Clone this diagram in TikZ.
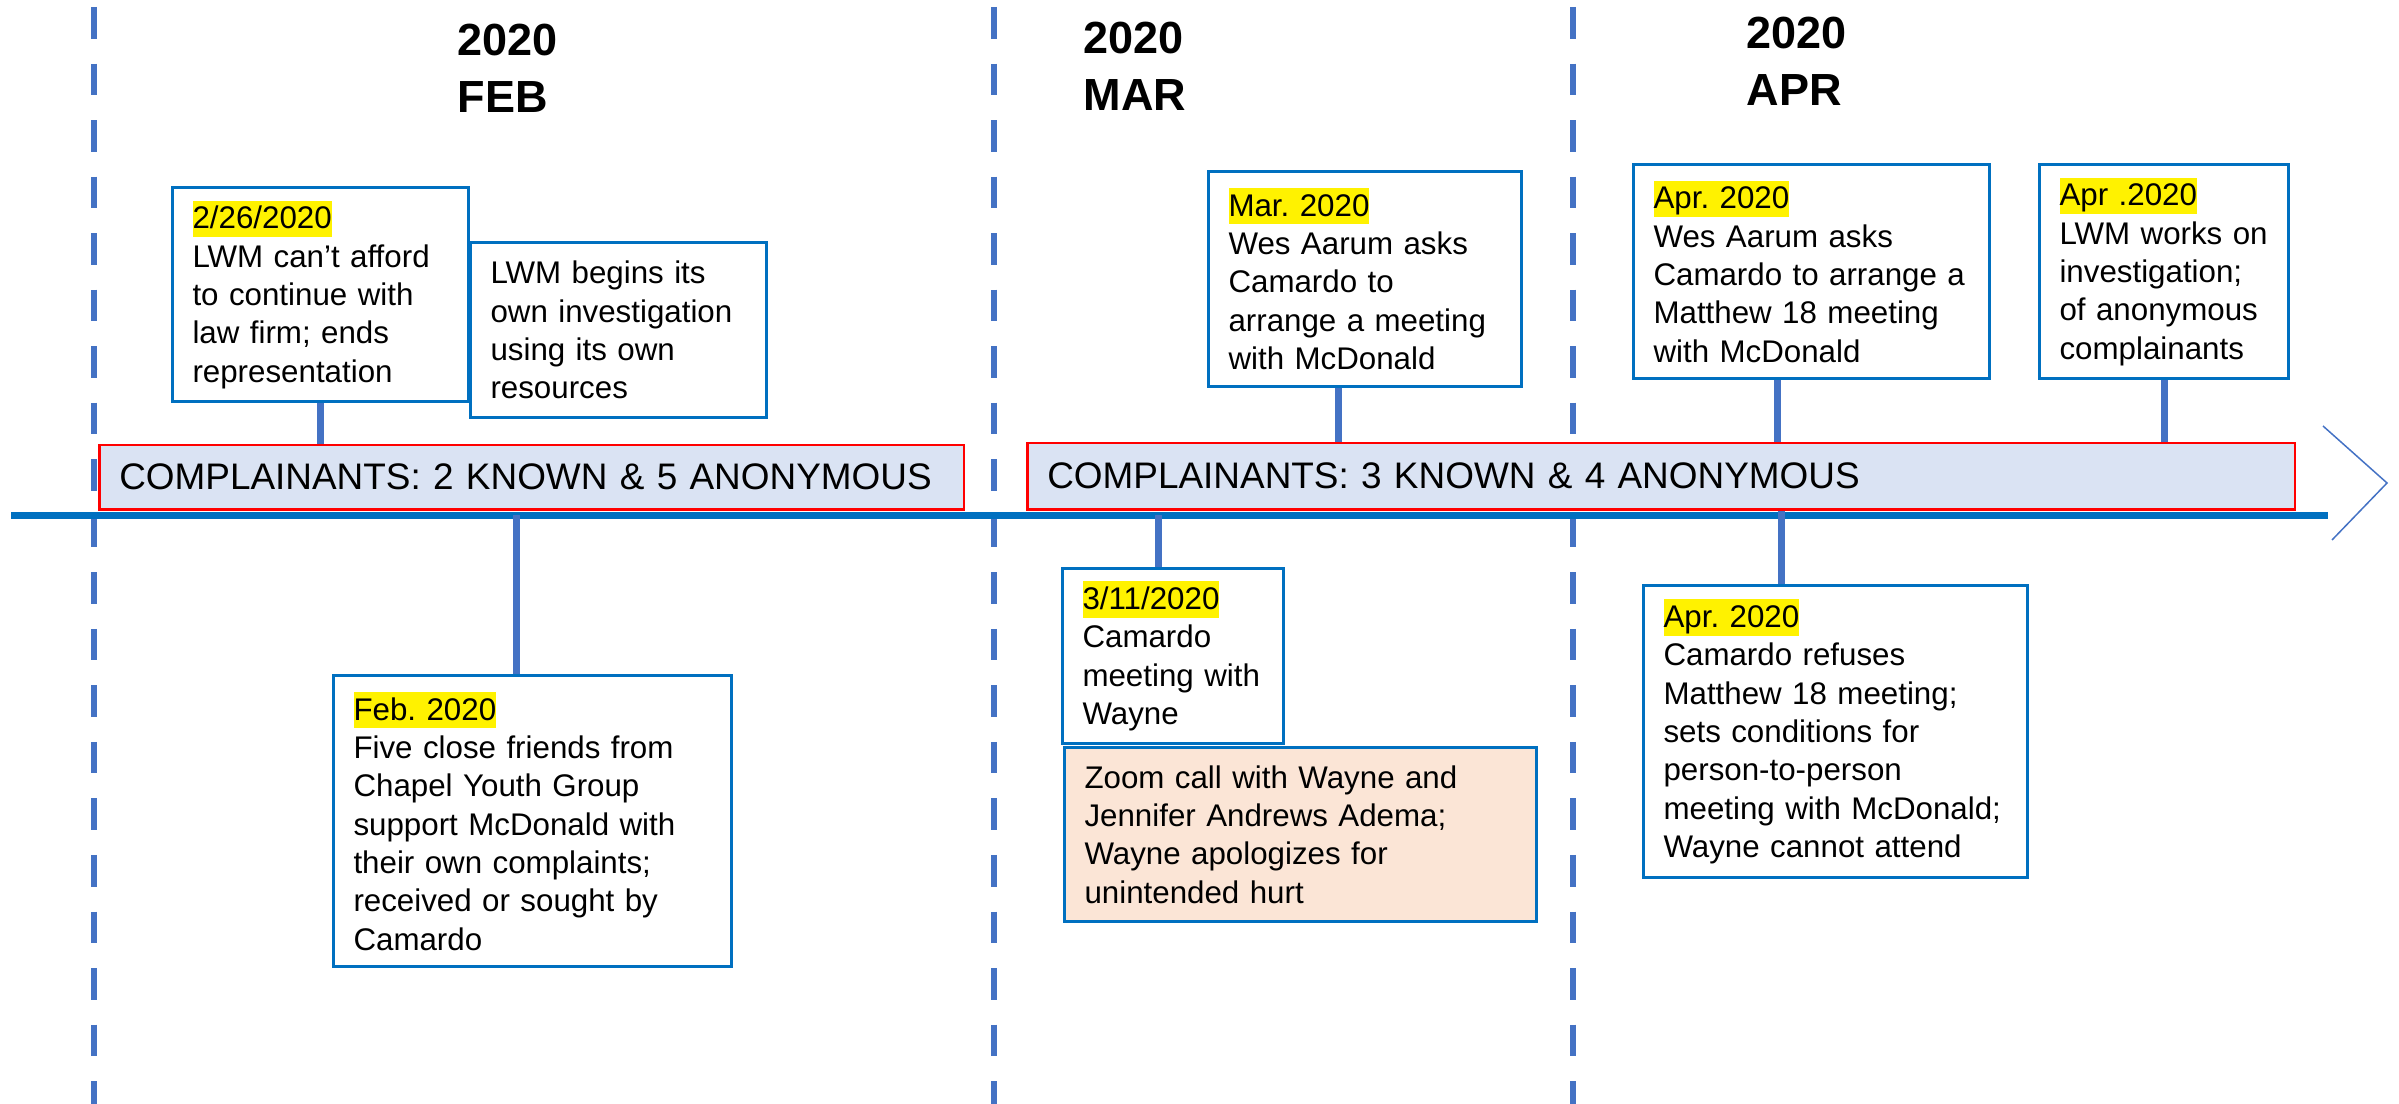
\documentclass[tikz,border=0pt]{standalone}
\usepackage{fontspec}
\setmainfont{Liberation Sans}
\usetikzlibrary{calc}
\frenchspacing
\definecolor{boxblue}{RGB}{0,112,192}
\definecolor{stemblue}{RGB}{68,114,196}
\definecolor{tallyfill}{RGB}{218,227,243}
\definecolor{zoomfill}{RGB}{251,229,214}
\newcommand{\evfont}{\fontsize{8.9}{10.9}\selectfont}
\newcommand{\talfont}{\fontsize{10.5}{12.6}\selectfont}
\newcommand{\hdfont}{\fontsize{12.8}{16.2}\selectfont\bfseries}
\newcommand{\datehl}[1]{{\setlength{\fboxsep}{0pt}\colorbox{yellow}{\rule[-0.26em]{0pt}{1.16em}#1}}}

\begin{document}
\begin{tikzpicture}[x=0.01cm,y=-0.01cm]

\tikzstyle{event} = [draw=boxblue, line width=0.03cm, fill=white, anchor=north west,
inner xsep=0.2cm, inner ysep=0pt, align=left, font=\evfont]
\tikzstyle{tally} = [draw=red, line width=0.025cm, fill=tallyfill, anchor=north west,
inner xsep=0.2cm, inner ysep=0pt, align=left, font=\talfont]
\tikzstyle{month} = [anchor=north west, inner sep=0pt, align=left, font=\hdfont]
\tikzstyle{stem} = [draw=stemblue, line width=0.07cm]
\tikzstyle{divider} = [draw=stemblue, line width=0.06cm, dash pattern=on 0.315cm off 0.25cm]
\tikzstyle{axis} = [draw=boxblue, line width=0.07cm]

\useasboundingbox (0,0) rectangle (2399,1104);

\draw[divider] (94,7) -- (94,1104);
\draw[divider] (994,7) -- (994,1104);
\draw[divider] (1573,7) -- (1573,1104);

\coordinate (tl-start) at (11,515.5);
\coordinate (tl-end) at (2328,515.5);
\draw[axis] (tl-start) -- (tl-end);
\draw[stemblue, line width=0.015cm] (2323,426) -- (2387,483) -- (2332,540);


\node[month] (feb-head) at (457,23) {2020\\FEB};
\node[month] (mar-head) at (1083,21) {2020\\MAR};
\node[month] (apr-head) at (1746,16) {2020\\APR};


\node[tally, text width=8.24cm, minimum height=0.64cm] (feb-tally) at (98,444) {COMPLAINANTS: 2 KNOWN \& 5 ANONYMOUS};
\node[tally, text width=12.27cm, minimum height=0.66cm] (spring-tally) at (1026,442) {COMPLAINANTS: 3 KNOWN \& 4 ANONYMOUS};


\node[event, text width=2.56cm, minimum height=2.14cm] (lawfirm-end) at (171,186) {\datehl{2/26/2020}\\ LWM can't afford\\ to continue with\\ law firm; ends\\ representation};
\node[event, text width=2.56cm, minimum height=1.75cm] (own-probe) at (469,241) {LWM begins its\\ own investigation\\ using its own\\ resources};
\node[event, text width=2.73cm, minimum height=2.15cm] (mar-ask) at (1207,170) {\datehl{Mar. 2020}\\ Wes Aarum asks\\ Camardo to\\ arrange a meeting\\ with McDonald};
\node[event, text width=3.16cm, minimum height=2.14cm] (apr-ask) at (1632,163) {\datehl{Apr. 2020}\\ Wes Aarum asks\\ Camardo to arrange a\\ Matthew 18 meeting\\ with McDonald};
\node[event, text width=2.09cm, minimum height=2.14cm] (apr-probe) at (2038,163) {\datehl{Apr .2020}\\ LWM works on\\ investigation;\\ of anonymous\\ complainants};

\node[event, text width=3.58cm, minimum height=2.91cm] (feb-friends) at (332,674) {\datehl{Feb. 2020}\\ Five close friends from\\ Chapel Youth Group\\ support McDonald with\\ their own complaints;\\ received or sought by\\ Camardo};
\node[event, text width=1.81cm, minimum height=1.75cm] (mar-meet) at (1061,567) {\datehl{3/11/2020}\\ Camardo\\ meeting with\\ Wayne};
\node[event, fill=zoomfill, text width=4.32cm, minimum height=1.74cm] (zoom-call) at (1063,746) {Zoom call with Wayne and\\ Jennifer Andrews Adema;\\ Wayne apologizes for\\ unintended hurt};
\node[event, text width=3.44cm, minimum height=2.92cm] (apr-refuse) at (1642,584) {\datehl{Apr. 2020}\\ Camardo refuses\\ Matthew 18 meeting;\\ sets conditions for\\ person-to-person\\ meeting with McDonald;\\ Wayne cannot attend};


\draw[stem] (lawfirm-end.south) -- (lawfirm-end.south |- feb-tally.north);
\draw[stem] ([xshift=-0.265cm]mar-ask.south) -- ([xshift=-0.265cm]mar-ask.south |- spring-tally.north);
\draw[stem] ([xshift=-0.34cm]apr-ask.south) -- ([xshift=-0.34cm]apr-ask.south |- spring-tally.north);
\draw[stem] (apr-probe.south) -- (apr-probe.south |- spring-tally.north);
\draw[stem] ([xshift=-0.16cm]feb-friends.north |- tl-start) -- ([xshift=-0.16cm]feb-friends.north);
\draw[stem] ([xshift=-0.145cm]mar-meet.north |- tl-start) -- ([xshift=-0.145cm]mar-meet.north);
\draw[stem] ([xshift=-0.54cm]apr-refuse.north |- spring-tally.south) -- ([xshift=-0.54cm]apr-refuse.north);

\end{tikzpicture}
\end{document}
